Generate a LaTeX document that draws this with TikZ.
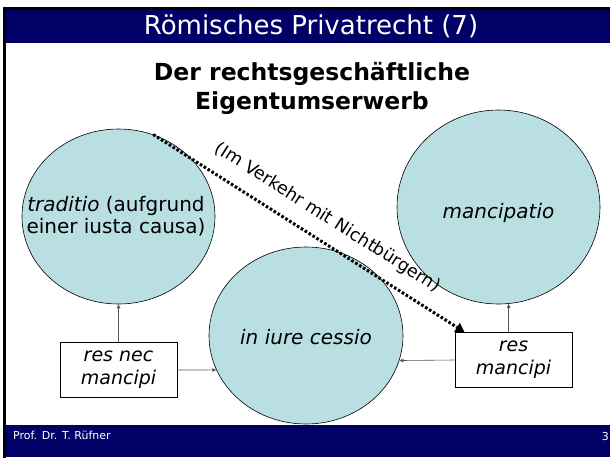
\documentclass[tikz,border=0pt]{standalone}
\usepackage{fontspec}
\setmainfont{DejaVu Sans}
\usepackage{tikz}
\usetikzlibrary{shapes.geometric,arrows.meta}
\definecolor{azul}{RGB}{0,0,102}
\definecolor{celeste}{RGB}{185,223,226}
\tikzstyle{circulo}=[ellipse,draw,fill=celeste,line width=0.6pt,inner sep=0pt]
\tikzstyle{caja}=[rectangle,draw,fill=white,line width=0.8pt,minimum width=117pt,minimum height=55pt,inner sep=0pt,align=center,font=\fontsize{19}{23}\selectfont\itshape]
\tikzstyle{texto}=[inner sep=0pt,align=center,font=\fontsize{20}{22}\selectfont]
\tikzstyle{flecha}=[draw=black!65,line width=0.6pt,-{Triangle[length=4pt,width=3.5pt]}]
\tikzstyle{punteada}=[line width=3pt,dash pattern=on 2.6pt off 2pt,-{Triangle[length=9pt,width=10pt]}]

\begin{document}
\begin{tikzpicture}[x=1pt,y=-1pt]
    \useasboundingbox (0,0) rectangle (610,459);
    \fill [black] (3,7) rectangle (610,10);
    \fill [black] (3,7) rectangle (6,458);
    \fill [azul] (6,10) rectangle (610,43);
    \fill [azul] (6,425) rectangle (610,457);
    \node [texto,text=white,font=\fontsize{26}{30}\selectfont] (titulo) at (311,26) {Römisches Privatrecht (7)};
    \node [texto,font=\fontsize{23.5}{29}\selectfont\bfseries] (sub) at (312,88) {Der rechtsgeschäftliche\\Eigentumserwerb};
    \node [circulo,minimum width=193pt,minimum height=175pt] (trad) at (118.5,216.5) {};
    \node [circulo,minimum width=203pt,minimum height=194pt] (manc) at (498.5,207) {};
    \node [circulo,minimum width=194pt,minimum height=177pt] (iure) at (306,335.5) {};
    \node [texto] (t1) at (116,216) {\textit{traditio} (aufgrund\\einer iusta causa)};
    \node [texto,font=\fontsize{20}{22}\selectfont\itshape] (t2) at (498.5,213) {mancipatio};
    \node [texto,font=\fontsize{20}{22}\selectfont\itshape] (t3) at (306,337) {in iure cessio};
    \node [caja] (rnm) at (118.5,370) {res nec\\mancipi};
    \node [caja] (rm) at (513.5,360) {res\\mancipi};
    \draw [flecha] (rnm) -- (trad);
    \draw [flecha] (rm.north -| manc.276) -- (manc.276);
    \draw [flecha] (rnm.east) -- (iure.201);
    \draw [flecha] (rm.west) -- (iure.345.3);
    \draw [punteada] (trad.67) -- ([xshift=10pt]rm.north west)
        node [pos=0.52,sloped,above=13pt,inner sep=0pt,font=\fontsize{17.5}{20}\selectfont] (nota) {(Im Verkehr mit Nichtbürgern)};
    \node [anchor=west,inner sep=0pt,text=white,font=\fontsize{11}{13}\selectfont] (pie) at (13,435) {Prof. Dr. T. Rüfner};
    \node [anchor=east,inner sep=0pt,text=white,font=\fontsize{11}{13}\selectfont] (num) at (609,436) {3};
\end{tikzpicture}
\end{document}
